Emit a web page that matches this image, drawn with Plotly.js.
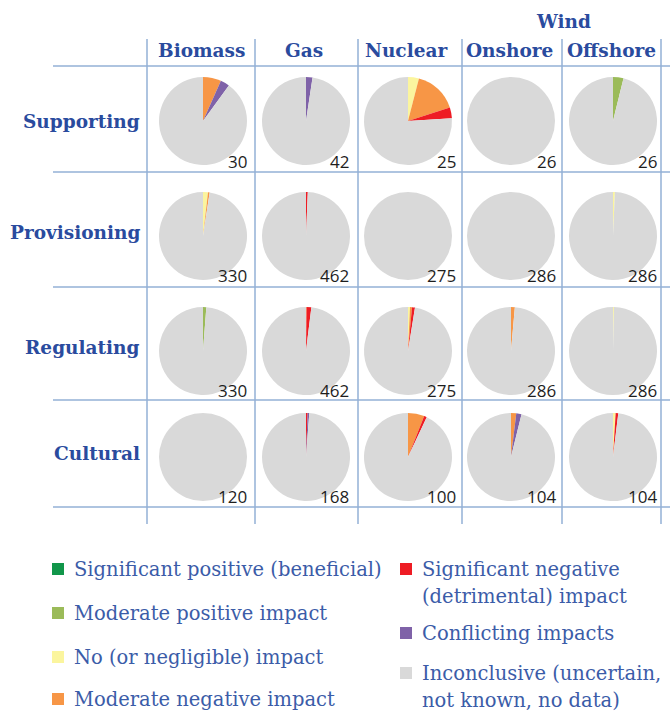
<!DOCTYPE html>
<html>
<head>
<meta charset="utf-8">
<script src="https://cdn.plot.ly/plotly-3.0.1.min.js"></script>
<style>html,body{margin:0;padding:0;background:#fff;}#chart{width:670px;height:713px;}</style>
</head>
<body>
<div id="chart"></div>
<script>
// ---------- DATA ----------
const sources = ['Biomass', 'Gas', 'Nuclear', 'Onshore', 'Offshore'];
const sourceGroup = 'Wind';
const services = ['Supporting', 'Provisioning', 'Regulating', 'Cultural'];
const categories = [
  'Significant positive (beneficial)',
  'Moderate positive impact',
  'No (or negligible) impact',
  'Moderate negative impact',
  'Significant negative\n(detrimental) impact',
  'Conflicting impacts',
  'Inconclusive (uncertain,\nnot known, no data)'
];
const categoryColors = ['#11964a', '#9bbb59', '#fbf59e', '#f79646', '#ee1c24', '#7f62a8', '#d9d9d9'];
// counts per cell, in category order above, one row per source
const supporting   = [[0,0,0,2,0,1,27],[0,0,0,0,0,1,41],[0,0,1,4,1,0,19],[0,0,0,0,0,0,26],[0,1,0,0,0,0,25]];
const provisioning = [[0,0,6,2,0,0,322],[0,0,0,0,3,0,459],[0,0,0,0,0,0,275],[0,0,0,0,0,0,286],[0,0,2,0,0,0,284]];
const regulating   = [[0,4,0,0,0,0,326],[0,0,0,1,8,0,453],[0,0,2,2,3,0,268],[0,0,0,4,0,0,282],[0,0,1,0,0,0,285]];
const cultural     = [[0,0,0,0,0,0,120],[0,0,0,0,1,1,166],[0,0,0,6,1,0,93],[0,0,0,2,0,2,100],[0,0,1,0,1,0,102]];
const serviceData = [supporting, provisioning, regulating, cultural];

// ---------- LAYOUT GEOMETRY (pixels) ----------
const W = 670, H = 713;
const colCenters = [203, 306, 408, 511, 613];
const rowCenters = [121, 236, 351, 457];
const pieR = 44;
const numRight = [249, 351, 458, 558, 659];
const numY = [161, 275, 390, 496];
const hLines = [66, 172, 287, 400, 507];
const vLines = [147, 255, 358, 462, 562, 661];
const lineColor = '#93b0d6';
const blue = '#2a4b9e';
const legendBlue = '#3b5ca8';

const px = x => x / W;
const py = y => 1 - y / H;

const traces = [];
const annotations = [];
const shapes = [];

serviceData.forEach((rowData, ri) => {
  rowData.forEach((counts, ci) => {
    const cx = colCenters[ci], cy = rowCenters[ri];
    traces.push({
      type: 'pie',
      values: counts,
      labels: categories,
      marker: {colors: categoryColors, line: {width: 0}},
      sort: false,
      direction: 'clockwise',
      rotation: 0,
      textinfo: 'none',
      hoverinfo: 'label+value',
      showlegend: false,
      domain: {x: [px(cx - pieR), px(cx + pieR)], y: [py(cy + pieR), py(cy - pieR)]}
    });
    const total = counts.reduce((a, b) => a + b, 0);
    annotations.push({
      xref: 'paper', yref: 'paper', x: px(numRight[ci]), y: py(numY[ri]),
      xanchor: 'right', yanchor: 'middle', showarrow: false,
      text: String(total),
      font: {family: 'Open Sans, Noto Sans, sans-serif', size: 17, color: '#1e1e1e'}
    });
  });
});

// column headers
const headerFont = {family: 'DejaVu Serif, serif', size: 18.5, color: blue};
sources.forEach((s, ci) => {
  annotations.push({xref: 'paper', yref: 'paper', x: px(colCenters[ci] - 2), y: py(51),
    xanchor: 'center', yanchor: 'middle', showarrow: false, text: '<b>' + s + '</b>', font: headerFont});
});
annotations.push({xref: 'paper', yref: 'paper', x: px((colCenters[3] + colCenters[4]) / 2 + 1), y: py(21),
  xanchor: 'center', yanchor: 'middle', showarrow: false, text: '<b>' + sourceGroup + '</b>', font: headerFont});
// row labels
services.forEach((s, ri) => {
  annotations.push({xref: 'paper', yref: 'paper', x: px(142), y: py(rowCenters[ri] + (ri === 0 ? 0 : -4)),
    xanchor: 'right', yanchor: 'middle', showarrow: false, text: '<b>' + s + '</b>', font: headerFont});
});

// grid lines
hLines.forEach(y => shapes.push({type: 'line', xref: 'paper', yref: 'paper',
  x0: px(53), x1: px(670), y0: py(y), y1: py(y), line: {color: lineColor, width: 1.5}}));
vLines.forEach(x => shapes.push({type: 'line', xref: 'paper', yref: 'paper',
  x0: px(x), x1: px(x), y0: py(39), y1: py(524), line: {color: lineColor, width: 1.5}}));

// custom legend
const legendPos = [
  {sx: 52, y: 569}, {sx: 52, y: 613}, {sx: 52, y: 657}, {sx: 52, y: 699},
  {sx: 400, y: 569}, {sx: 400, y: 633}, {sx: 400, y: 673}
];
const legendFont = {family: 'DejaVu Serif, serif', size: 19.5, color: legendBlue};
categories.forEach((c, i) => {
  const p = legendPos[i];
  shapes.push({type: 'rect', xref: 'paper', yref: 'paper',
    x0: px(p.sx), x1: px(p.sx + 12), y0: py(p.y + 6), y1: py(p.y - 6),
    fillcolor: categoryColors[i], line: {width: 0}});
  c.split('\n').forEach((line, li) => {
    annotations.push({xref: 'paper', yref: 'paper', x: px(p.sx + 20), y: py(p.y + li * 27),
      xanchor: 'left', yanchor: 'middle', showarrow: false, text: line, font: legendFont});
  });
});

const layout = {
  width: W, height: H,
  margin: {l: 0, r: 0, t: 0, b: 0},
  paper_bgcolor: '#ffffff',
  showlegend: false,
  annotations: annotations,
  shapes: shapes
};
Plotly.newPlot('chart', traces, layout, {displayModeBar: false, staticPlot: true});
</script>
</body>
</html>
